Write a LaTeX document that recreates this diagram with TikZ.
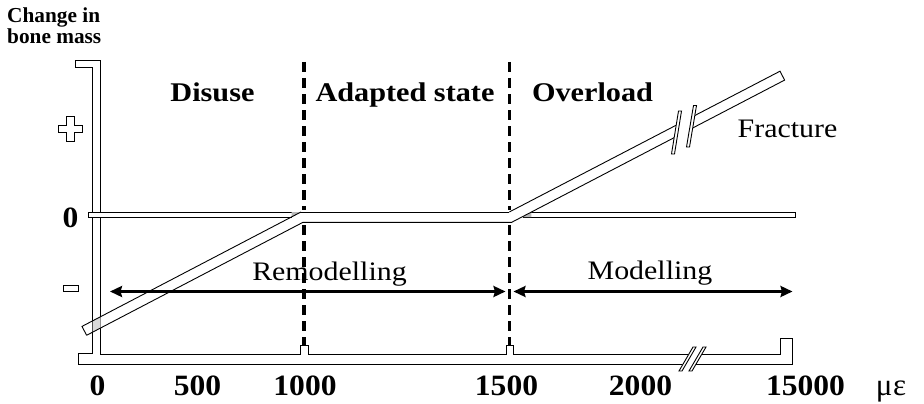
\documentclass[tikz,border=0pt]{standalone}
\usepackage{fontspec}
\setmainfont{Liberation Serif}[FakeStretch=1.12]
\newfontfamily\numfont{Liberation Serif}[FakeStretch=1.07]
\newfontfamily\plainfont{Liberation Serif}
\usetikzlibrary{arrows.meta}
\begin{document}
\begin{tikzpicture}[x=1pt,y=-1pt,
  ln/.style={line width=0.9pt, line join=miter},
  dsh/.style={line width=3.2pt, dash pattern=on 10pt off 6pt},
  arr/.style={line width=2.8pt, {Stealth[length=12pt,width=11pt,inset=1.5pt]}-{Stealth[length=12pt,width=11pt,inset=1.5pt]}},
  hdr/.style={font=\fontsize{27}{30}\selectfont\bfseries, anchor=base, inner sep=0pt},
  lbl/.style={font=\fontsize{26.7}{30}\selectfont, anchor=base, inner sep=0pt},
  num/.style={font=\numfont\fontsize{29.5}{32}\selectfont\bfseries, anchor=base, inner sep=0pt},
  ttl/.style={font=\plainfont\fontsize{21.3}{24}\selectfont\bfseries, anchor=base west, inner sep=0pt},
  wedge/.style={fill=gray!55, draw=none}]
\path[use as bounding box] (0,0) rectangle (924,404);

% ---- y axis ----
\draw[ln] (92.5,212) -- (92.5,67) -- (75,67) -- (75,60) -- (100.5,60) -- (100.5,212);
\draw[ln] (92.5,217) -- (92.5,353) -- (78,353) -- (78,364.5) -- (700,364.5);
\draw[ln] (100.5,217) -- (100.5,354.5) -- (300,354.5) -- (300,345) -- (308,345) -- (308,354.5)
  -- (506,354.5) -- (506,345) -- (513.5,345) -- (513.5,354.5) -- (700,354.5);
\draw[ln] (695,354.5) -- (780,354.5) -- (780,338) -- (792,338) -- (792,364.5) -- (695,364.5);
% x-axis break
\fill[white] (679,371) -- (693,347) -- (706,347) -- (692,371) -- cycle;
\draw[ln,fill=white] (679,371) -- (693,347) -- (696,347) -- (682,371) -- cycle;
\draw[ln,fill=white] (689,371) -- (703,347) -- (706,347) -- (692,371) -- cycle;

% ---- zero band ----
\draw[ln] (291.5,217) -- (88,217) -- (88,212) -- (509.3,212);
\draw[ln] (531.3,212) -- (795,212) -- (795,217) -- (522.5,217);
\fill[wedge] (291.5,212) -- (301,212) -- (291.5,217) -- cycle;
\fill[wedge] (522.5,217) -- (531.3,212) -- (531.3,217) -- cycle;

% ---- response band ----
\fill[gray!30] (92.5,320.9) -- (100.5,316.7) -- (100.5,328) -- (92.5,332.2) -- cycle;
\draw[ln] (86.6,335.3) -- (82,326.4) -- (301,212);
\draw[ln] (509.3,212) -- (780,71.2) -- (784.6,80.1) -- (511.7,222.3) -- (303,222.3) -- (86.6,335.3);
% band break
\fill[white] (671.5,154) -- (678.5,111) -- (696.5,105.5) -- (689.5,147) -- cycle;
\draw[ln,fill=white] (671.5,154) -- (678.5,111) -- (681.5,111) -- (674.5,154) -- cycle;
\draw[ln,fill=white] (686.5,147) -- (693.5,105.5) -- (696.5,105.5) -- (689.5,147) -- cycle;

% ---- dashed boundaries ----
\draw[dsh] (304,62) -- (304,210);
\draw[dsh] (304,225) -- (304,345);
\draw[dsh] (509.5,62) -- (509.5,210);
\draw[dsh] (509.5,225) -- (509.5,345);

% ---- plus / minus ----
\draw[ln] (66.8,116.7) -- (74.2,116.7) -- (74.2,125.5) -- (82.7,125.5) -- (82.7,132.5) -- (74.2,132.5)
  -- (74.2,141.5) -- (66.8,141.5) -- (66.8,132.5) -- (58.3,132.5) -- (58.3,125.5) -- (66.8,125.5) -- cycle;
\draw[ln] (63.3,285) rectangle (78.3,291.7);

% ---- arrows ----
\coordinate (rl) at (110,291.5);
\coordinate (rr) at (505.5,291.5);
\coordinate (ml) at (513.5,291.5);
\coordinate (mr) at (792.5,291.5);
\draw[arr] (rl) -- (rr);
\draw[arr] (ml) -- (mr);

% ---- texts ----
\node[ttl] (t1) at (7,22.7) {Change in};
\node[ttl] (t2) at (7,44) {bone mass};
\node[hdr] (dis) at (212.5,102) {Disuse};
\node[hdr] (ads) at (405,102) {Adapted state};
\node[hdr] (ovl) at (592.5,102) {Overload};
\node[lbl] (rem) at (329.5,280) {Remodelling};
\node[lbl] (mod) at (650,279) {Modelling};
\node[lbl] (frc) at (787.5,137) {Fracture};
\node[num] (y0) at (70.5,227.5) {0};
\node[num] (x0) at (97.5,395) {0};
\node[num] (x1) at (197.5,395) {500};
\node[num] (x2) at (305,395) {1000};
\node[num] (x3) at (506.5,395) {1500};
\node[num] (x4) at (640.5,395) {2000};
\node[num] (x5) at (805.5,395) {15000};
\node[font=\plainfont\fontsize{31}{34}\selectfont, anchor=base, inner sep=0pt] (unit) at (891,395) {μ\kern0.5ptε};
\end{tikzpicture}
\end{document}
